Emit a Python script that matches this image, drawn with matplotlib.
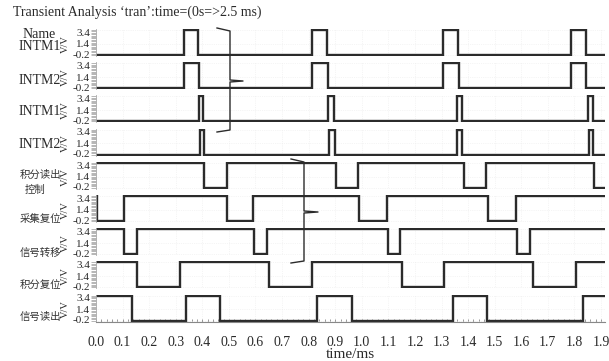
import numpy as np
import matplotlib
matplotlib.use("Agg")
import matplotlib.pyplot as plt
from matplotlib.lines import Line2D
from matplotlib.ticker import MultipleLocator, FixedLocator
from matplotlib.transforms import ScaledTranslation

plt.rcParams['font.family'] = ['Liberation Serif', 'Noto Sans CJK SC', 'DejaVu Sans']

# signal names (left labels)
names = ["INTM1", "INTM2", "INTM1", "INTM2",
         "积分读出", "采集复位", "信号转移", "积分复位", "信号读出"]

# initial level (1 = high 3.4 V, 0 = low -0.2 V) and edge times (ms)
start_levels = [0, 0, 0, 0, 1, 1, 1, 1, 1]
edges = [
    [0.331, 0.383, 0.812, 0.868, 1.305, 1.361, 1.786, 1.842],
    [0.331, 0.388, 0.812, 0.872, 1.305, 1.365, 1.786, 1.842],
    [0.387, 0.402, 0.872, 0.895, 1.357, 1.376, 1.850, 1.868],
    [0.391, 0.406, 0.876, 0.899, 1.357, 1.376, 1.853, 1.868],
    [0.406, 0.492, 0.902, 0.985, 1.383, 1.466, 1.872],
    [0.004, 0.105, 0.492, 0.590, 0.989, 1.094, 1.474, 1.579],
    [0.105, 0.154, 0.594, 0.643, 1.098, 1.143, 1.583, 1.632],
    [0.154, 0.316, 0.650, 0.812, 1.150, 1.308, 1.643, 1.805],
    [0.135, 0.338, 0.466, 0.831, 0.962, 1.342, 1.470, 1.831],
]
end_times = [1.915, 1.915, 1.91, 1.91, 1.915, 1.915, 1.915, 1.915, 1.915]

v_high, v_low = 3.4, -0.2
yticks = [-0.2, 1.4, 3.4]
ytick_labels = ["-0.2", "1.4", "3.4"]
xticks = np.round(np.arange(0, 2.0, 0.1), 1)

W, H = 609, 361
fig = plt.figure(figsize=(W / 100, H / 100), dpi=100)

left_px, right_px = 96, 605
row_top0, row_step, row_h = 30, 33.2, 25
line_col = '#2b2b2b'
txt_col = '#2a2a2a'


def step_wave(level0, ts, t_end):
    t = [0.0]
    lv = [level0]
    cur = level0
    for e in ts:
        t += [e, e]
        lv += [cur, 1 - cur]
        cur = 1 - cur
    t.append(t_end)
    lv.append(cur)
    v = np.where(np.array(lv) == 1, v_high, v_low)
    return np.array(t), v


# small vertical nudges (points) for the tick labels: -0.2 up, 3.4 down
nudge = [0.6, 0.0, -1.6]

axes = []
for i, name in enumerate(names):
    top = row_top0 + row_step * i
    pad = 0.15 / 3.6 * row_h
    y0 = H - (top + row_h + pad)
    ax = fig.add_axes([left_px / W, y0 / H, (right_px - left_px) / W,
                       (row_h + 2 * pad) / H])
    t, v = step_wave(start_levels[i], edges[i], end_times[i])
    ax.plot(t, v, color=line_col, lw=1.7, solid_joinstyle='miter')
    ax.set_xlim(0, 1.915)
    ax.set_ylim(-0.35, 3.55)
    for s in ['top', 'right']:
        ax.spines[s].set_visible(False)
    ax.spines['left'].set_color('#aaaaaa')
    ax.spines['left'].set_linewidth(0.6)
    ax.yaxis.set_major_locator(FixedLocator(yticks))
    ax.yaxis.set_minor_locator(MultipleLocator(0.2))
    ax.set_yticklabels(ytick_labels, fontsize=8, color=txt_col)
    ax.tick_params(axis='y', which='both', direction='out', length=3.5,
                   width=0.5, color='#999999', pad=0.5)
    for tk, dy in zip(ax.yaxis.get_major_ticks(), nudge):
        lab = tk.label1
        lab.set_transform(lab.get_transform()
                          + ScaledTranslation(0, dy / 72, fig.dpi_scale_trans))
    ax.xaxis.set_major_locator(FixedLocator(xticks))
    ax.grid(True, color='#ececec', lw=0.5, ls=':')
    ax.set_ylabel("V/V", fontsize=7.5, labelpad=0, color=txt_col)
    ax.yaxis.set_label_coords(-0.052, 0.45)
    if i < len(names) - 1:
        ax.spines['bottom'].set_visible(False)
        ax.tick_params(axis='x', which='both', bottom=False, labelbottom=False)
    else:
        ax.spines['bottom'].set_color('#888888')
        ax.spines['bottom'].set_linewidth(0.8)
        ax.xaxis.set_minor_locator(MultipleLocator(0.02))
        ax.set_xticklabels([f"{x:.1f}" for x in xticks], fontsize=10,
                           color=txt_col)
        ax.tick_params(axis='x', which='both', direction='in', length=2,
                       width=0.6, color='#888888', pad=10)
        ax.set_xlabel("time/ms", fontsize=11, labelpad=-0.5, color=txt_col)
    axes.append(ax)

# row labels: (right x, centre y) in pixels
label_pos = [(61, 47), (61, 80), (61, 112), (61, 144),
             (61, 175), (61, 219), (61, 253), (61, 285), (61, 317)]
for name, (x, y) in zip(names, label_pos):
    cjk = any(ord(c) > 0x2000 for c in name)
    if cjk:
        fig.text(x / W, 1 - y / H, name, fontsize=7.5, ha='right', va='center',
                 family=['Noto Sans CJK SC'], color='#333333')
    else:
        fig.text(x / W, 1 - y / H, name, fontsize=10, ha='right',
                 va='center', color=txt_col)
fig.text(56 / W, 1 - 34 / H, "Name", fontsize=10, ha='right', va='center',
         color=txt_col)
fig.text(25 / W, 1 - 190 / H, "控制", fontsize=7.5, ha='left', va='center',
         family=['Noto Sans CJK SC'], color='#333333')

fig.text(13 / W, 1 - 12 / H, "Transient Analysis \u2018tran\u2019:time=(0s=>2.5 ms)",
         fontsize=10, ha='left', va='center', color=txt_col)


# braces grouping the rows (figure pixel coordinates)
def brace(x, y_top, y_bot, y_tip, hook, tip):
    xs = [x - hook, x, x, x + tip, x, x, x - hook]
    ys = [y_top - 2, y_top + 1, y_tip - 1, y_tip, y_tip + 1, y_bot - 1, y_bot + 1]
    fig.add_artist(Line2D(np.array(xs) / W, 1 - np.array(ys) / H,
                          transform=fig.transFigure, color=line_col, lw=1.0))


brace(230, 30, 131, 81, 13, 13)
brace(304, 161, 262, 212, 13, 14)

fig.savefig("out.png", dpi=100)
